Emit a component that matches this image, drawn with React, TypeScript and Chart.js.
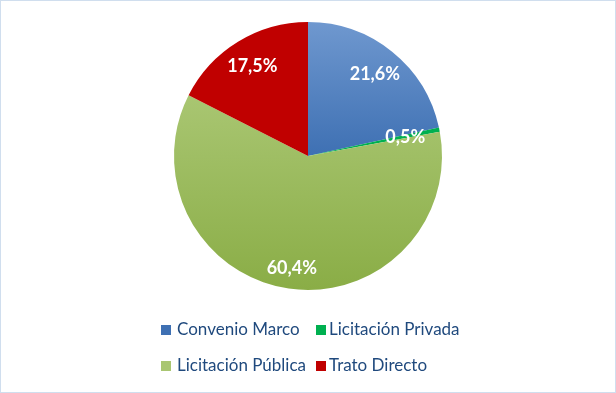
import React, { useEffect, useRef } from "react";
import { Chart, registerables } from "chart.js";

Chart.register(...registerables);

const categories = ["Convenio Marco", "Licitación Privada", "Licitación Pública", "Trato Directo"];
const values = [21.6, 0.5, 60.4, 17.5];
const valueLabels = ["21,6%", "0,5%", "60,4%", "17,5%"];
const baseColors = ["#4A7EBB", "#00B050", "#9BBB59", "#C00000"];

// gradient stops (offset within pie height, colour) per slice
const gradientStops: [number, string][][] = [
  [[0, "#6F98CF"], [0.5, "#3E70B3"], [1, "#3E70B3"]],
  [[0, "#00B050"], [1, "#00B050"]],
  [[0, "#A9C672"], [0.27, "#A9C672"], [1, "#8AAD46"]],
  [[0, "#C00000"], [1, "#C00000"]],
];

const labelPlugin = {
  id: "sliceLabels",
  afterDatasetsDraw(chart: any) {
    const ctx = chart.ctx;
    const meta = chart.getDatasetMeta(0);
    ctx.save();
    ctx.fillStyle = "#FFFFFF";
    ctx.font = "bold 18px Lato";
    ctx.textAlign = "center";
    ctx.textBaseline = "middle";
    meta.data.forEach((arc: any, i: number) => {
      const p = arc.getProps(["x", "y", "startAngle", "endAngle", "outerRadius"], true);
      const mid = (p.startAngle + p.endAngle) / 2;
      const f = i === 1 ? 0.74 : i === 2 ? 0.84 : 0.795;
      const r = p.outerRadius * f;
      ctx.fillText(valueLabels[i], p.x + Math.cos(mid) * r, p.y + Math.sin(mid) * r + 1);
    });
    ctx.restore();
  },
};

export default function App() {
  const ref = useRef<HTMLCanvasElement | null>(null);

  useEffect(() => {
    document.body.style.margin = "0";
    const canvas = ref.current!;
    const chart = new Chart(canvas, {
      type: "pie",
      data: {
        labels: categories,
        datasets: [
          {
            data: values,
            borderWidth: 0,
            backgroundColor: (c: any) => {
              const chartObj = c.chart;
              const area = chartObj.chartArea;
              const i = c.dataIndex;
              if (!area) return baseColors[i];
              const g = chartObj.ctx.createLinearGradient(0, area.top, 0, area.bottom);
              gradientStops[i].forEach(([o, col]) => g.addColorStop(o, col));
              return g;
            },
          },
        ],
      },
      options: {
        responsive: false,
        animation: false,
        layout: { padding: { top: 22, bottom: 103, left: 0, right: 0 } },
        plugins: {
          legend: { display: false },
          tooltip: { enabled: false },
        },
      },
      plugins: [labelPlugin],
    });
    return () => chart.destroy();
  }, []);

  const legendItem = (i: number, sqX: number, txtX: number, top: number) => (
    <div key={i}>
      <div
        style={{
          position: "absolute",
          left: sqX,
          top: top,
          width: 10,
          height: 10,
          background: gradientStops[i][Math.floor(gradientStops[i].length / 2)][1],
        }}
      />
      <div
        style={{
          position: "absolute",
          left: txtX,
          top: top - 6,
          fontFamily: "Lato",
          fontSize: 17,
          lineHeight: "20px",
          color: "#1F497D",
          whiteSpace: "nowrap",
        }}
      >
        {categories[i]}
      </div>
    </div>
  );

  return (
    <div style={{ position: "fixed", left: 0, top: 0, width: 616, height: 393, background: "#fff" }}>
      <canvas ref={ref} width={616} height={393} style={{ display: "block", position: "absolute", left: 0, top: 0 }} />
      {legendItem(0, 161, 177, 325)}
      {legendItem(1, 316, 329, 325)}
      {legendItem(2, 161, 177, 361)}
      {legendItem(3, 316, 329, 361)}
      <div
        style={{
          position: "absolute",
          left: 0,
          top: 0,
          width: 616,
          height: 393,
          boxSizing: "border-box",
          border: "1px solid #D0DEEE",
          pointerEvents: "none",
        }}
      />
    </div>
  );
}
